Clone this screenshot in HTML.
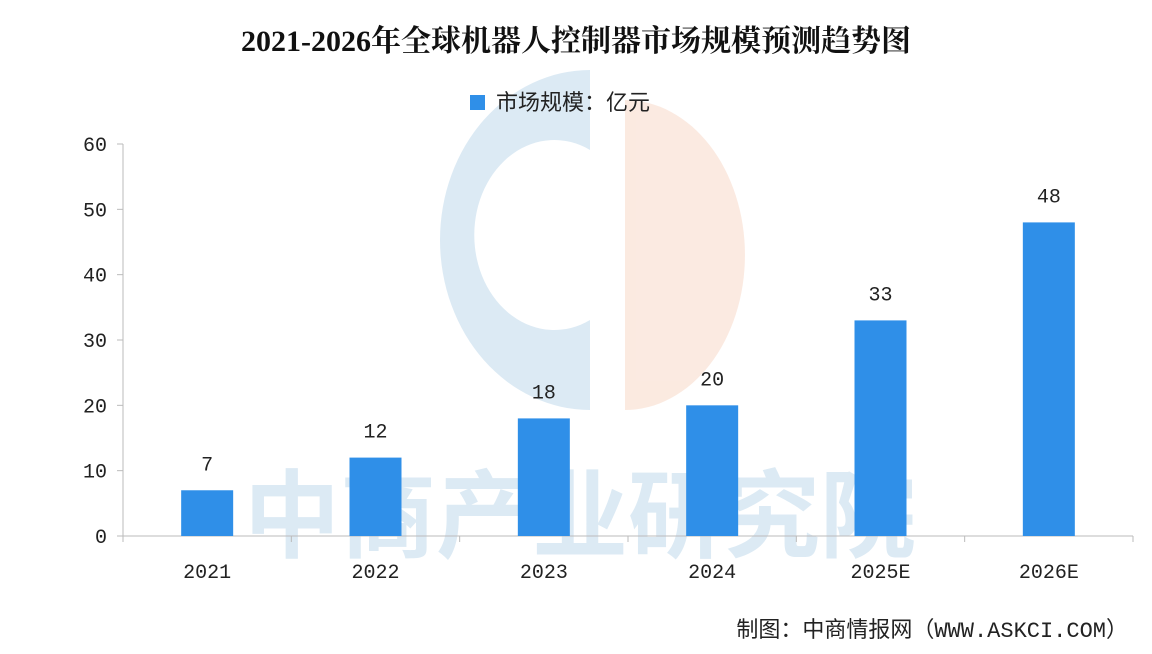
<!DOCTYPE html>
<html><head><meta charset="utf-8"><style>
body{margin:0;background:#fff;}
svg{display:block;font-family:"Liberation Mono","Noto Sans CJK SC",monospace;}
</style></head><body>
<svg id="c" width="1152" height="654">
<rect width="1152" height="654" fill="#fff"/>
<g opacity="0.35">
<path d="M590,70 A150,170 0 1 0 590,410 L590,320 A80,95 0 1 1 590,150 Z" fill="#9cc4e0"/>
<path d="M625,100 A120,155 0 0 1 625,410 Z" fill="#f4c4a8"/>
<text x="580" y="550" text-anchor="middle" font-size="96" font-weight="bold" fill="#9cc4e0" font-family="Noto Sans CJK SC,sans-serif">中商产业研究院</text>
</g>
<text x="576" y="51" text-anchor="middle" font-size="30" font-weight="bold" fill="#111" font-family="Liberation Serif,Noto Serif CJK SC,serif">2021-2026年全球机器人控制器市场规模预测趋势图</text>
<rect x="470" y="95" width="15" height="15" fill="#2f8fe8"/>
<text x="496" y="110" font-size="22" fill="#222">市场规模：亿元</text>
<text x="1128" y="637" text-anchor="end" font-size="22" fill="#222">制图：中商情报网（WWW.ASKCI.COM）</text>
<g id="plot"></g>
</svg>
<script>
const categories=["2021","2022","2023","2024","2025E","2026E"];
const values=[7,12,18,20,33,48];
const yTicks=[0,10,20,30,40,50,60];
const x0=123,x1=1133,yB=536,yT=144,yMax=60;
const bw=(x1-x0)/categories.length;
const y=v=>yB-(v/yMax)*(yB-yT);
const xc=i=>x0+bw*(i+0.5);
const g=document.getElementById('plot');
const ns='http://www.w3.org/2000/svg';
function mk(t,a,txt){const e=document.createElementNS(ns,t);for(const k in a)e.setAttribute(k,a[k]);if(txt!==undefined)e.textContent=txt;g.appendChild(e);return e;}
let e=mk('line',{x1:x0,y1:yT,x2:x0,y2:yB,stroke:'#bbb'});


e=mk('line',{x1:x0,y1:yB,x2:x1,y2:yB,stroke:'#bbb'});


yTicks.forEach(t=>{
 let l=mk('line',{x1:x0-6,y1:y(t),x2:x0,y2:y(t),stroke:'#bbb'});
 
 
 let s=mk('text',{x:x0-16,y:y(t)+7,'text-anchor':'end','font-size':20,fill:'#222'},t);
 
 
});
for(let i=0;i<=categories.length;i++){
 let l=mk('line',{x1:x0+bw*i,y1:yB,x2:x0+bw*i,y2:yB+6,stroke:'#bbb'});
 
 
}
categories.forEach((c,i)=>{
 let r=mk('rect',{x:xc(i)-26,y:y(values[i]),width:52,height:yB-y(values[i]),fill:'#2f8fe8'});
 
 
 let v=mk('text',{x:xc(i),y:y(values[i])-20,'text-anchor':'middle','font-size':20,fill:'#222'},values[i]);
 
 
 let t=mk('text',{x:xc(i),y:578,'text-anchor':'middle','font-size':20,fill:'#222'},c);
 
 
});
</script>
</body></html>
